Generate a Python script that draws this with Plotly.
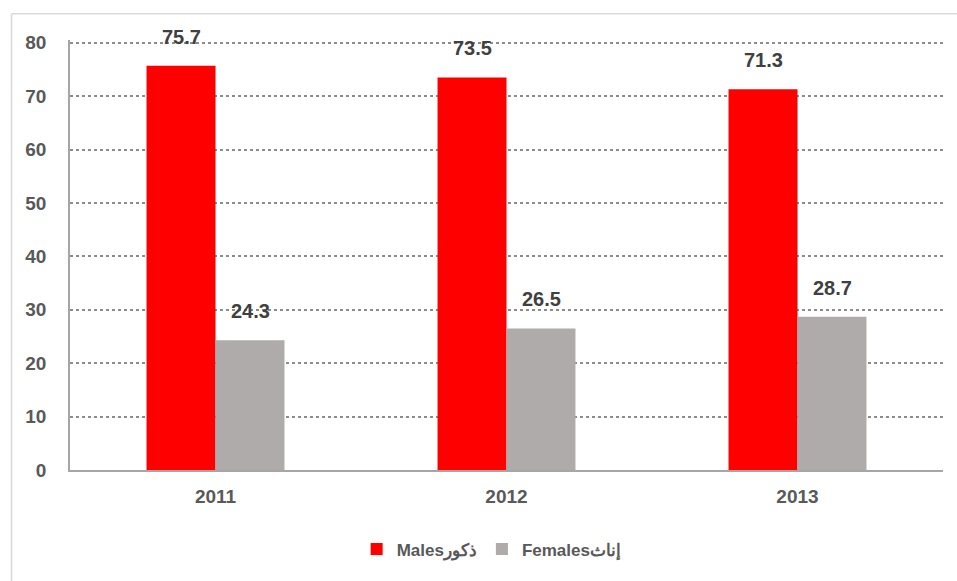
import plotly.graph_objects as go

years = ["2011", "2012", "2013"]
males = [75.7, 73.5, 71.3]
females = [24.3, 26.5, 28.7]
male_name = "Malesذكور"
female_name = "Femalesإناث"
y_ticks = [0, 10, 20, 30, 40, 50, 60, 70, 80]

RED = "#FF0000"
GREY = "#AEABAA"
TXT = "#595959"
FONT = "Liberation Sans, Arial, sans-serif"

fig = go.Figure()
fig.add_trace(go.Bar(x=years, y=males, name=male_name, marker=dict(color=RED, line=dict(width=0))))
fig.add_trace(go.Bar(x=years, y=females, name=female_name, marker=dict(color=GREY, line=dict(width=0))))

for i, yr in enumerate(years):
    fig.add_annotation(x=i, y=males[i], text=f"{males[i]:.1f}", showarrow=False,
                       xshift=-34, yshift=29, font=dict(family=FONT, size=20, color="#404040", weight="bold"))
    fig.add_annotation(x=i, y=females[i], text=f"{females[i]:.1f}", showarrow=False,
                       xshift=35, yshift=29, font=dict(family=FONT, size=20, color="#404040", weight="bold"))

# outer border (left and top edges)
fig.add_shape(type="line", xref="paper", yref="paper", x0=-0.067, x1=-0.067, y0=-0.3, y1=1.061,
              line=dict(color="#D9D9D9", width=1.5))
fig.add_shape(type="line", xref="paper", yref="paper", x0=-0.067, x1=1.1, y0=1.061, y1=1.061,
              line=dict(color="#D9D9D9", width=1.5))

fig.update_layout(
    width=957, height=581,
    margin=dict(l=70, r=14, t=40, b=111, autoexpand=False),
    paper_bgcolor="white", plot_bgcolor="white",
    barmode="group", bargap=0.526, bargroupgap=0,
    font=dict(family=FONT, color=TXT, size=15),
    showlegend=True,
    legend=dict(orientation="h", x=0.483, xanchor="center", y=-0.185, yanchor="middle",
                font=dict(family=FONT, size=17, color=TXT, weight="bold"),
                itemwidth=30, tracegroupgap=0),
)
fig.update_xaxes(type="category", showline=True, linecolor="#A6A6A6", linewidth=1.5, ticks="",
                 automargin=False, ticklabelstandoff=8,
                 tickfont=dict(family=FONT, size=19, color=TXT, weight="bold"), showgrid=False)
fig.update_yaxes(range=[0, 80.5], tickvals=y_ticks, showline=True, linecolor="#A6A6A6", linewidth=1.5,
                 showgrid=True, gridcolor="#8C8C8C", griddash="dot", gridwidth=1.5,
                 zeroline=False, ticks="", ticklabelstandoff=18, automargin=False,
                 tickfont=dict(family=FONT, size=19, color=TXT, weight="bold"))

fig.write_html("out.html", config={"displayModeBar": False},
               post_script="document.body.style.margin='0';")
